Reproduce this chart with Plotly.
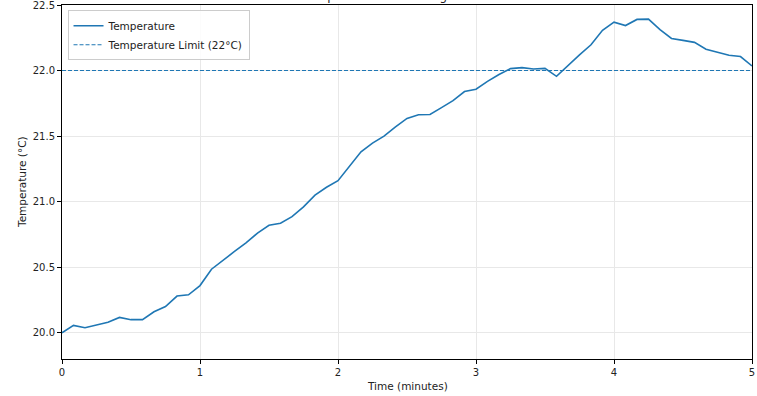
import plotly.graph_objects as go

# Time in minutes (every 5 seconds)
time_min = [i * 5 / 60 for i in range(61)]

temperature = [
    20.00, 20.056, 20.038, 20.06, 20.08, 20.117, 20.10, 20.10, 20.16, 20.20,
    20.28, 20.29, 20.36, 20.485, 20.556, 20.62, 20.686, 20.76, 20.82, 20.836,
    20.886, 20.96, 21.05, 21.11, 21.16, 21.27, 21.38, 21.447, 21.50, 21.57,
    21.635, 21.663, 21.665, 21.717, 21.77, 21.84, 21.858, 21.917, 21.97, 22.015,
    22.022, 22.012, 22.017, 21.956, 22.04, 22.12, 22.197, 22.307, 22.369, 22.343,
    22.39, 22.392, 22.312, 22.245, 22.23, 22.215, 22.163, 22.138, 22.117, 22.107,
    22.035,
]

limit_value = 22.0
title_text = "Temperature Monitoring Over Time"
x_title = "Time (minutes)"
y_title = "Temperature (°C)"
x_ticks = [0, 1, 2, 3, 4, 5]
y_ticks = [20.0, 20.5, 21.0, 21.5, 22.0, 22.5]

blue = "#1f77b4"
font_family = "DejaVu Sans"
text_color = "#222"

fig = go.Figure()
fig.add_trace(go.Scatter(
    x=time_min, y=temperature, mode="lines", name="Temperature",
    line=dict(color=blue, width=1.6),
))
fig.add_trace(go.Scatter(
    x=[0, 5], y=[limit_value, limit_value], mode="lines",
    name="Temperature Limit (22°C)",
    line=dict(color=blue, width=1.1, dash="4px,2px"),
))

axis_common = dict(
    showline=True, linecolor="black", linewidth=1, mirror=True,
    ticks="outside", ticklen=4, tickcolor="black", tickwidth=1,
    showgrid=True, gridcolor="#e8e8e8", gridwidth=1,
    zeroline=False, automargin=False, ticklabeloverflow="allow",
    tickfont=dict(family=font_family, size=10, color=text_color),
)

fig.update_layout(
    width=757, height=396,
    margin=dict(l=62, r=5, t=5, b=37),
    paper_bgcolor="white", plot_bgcolor="white",
    font=dict(family=font_family, size=10, color=text_color),
    showlegend=True,
    legend=dict(
        x=0.008, y=0.985, xanchor="left", yanchor="top",
        bgcolor="rgba(255,255,255,0.85)", bordercolor="#cccccc", borderwidth=1,
        font=dict(family=font_family, size=10.5, color=text_color),
        tracegroupgap=0,
    ),
    xaxis=dict(
        range=[0, 5], tickvals=x_ticks, ticktext=[str(v) for v in x_ticks],
        **axis_common,
    ),
    yaxis=dict(
        range=[19.8, 22.5], tickvals=y_ticks, ticktext=[f"{v:.1f}" for v in y_ticks],
        **axis_common,
    ),
    annotations=[
        dict(
            text=title_text, xref="paper", yref="paper", x=0.5, y=1,
            xanchor="center", yanchor="bottom", yshift=0, showarrow=False,
            font=dict(family=font_family, size=12, color=text_color),
        ),
        dict(
            text=x_title, xref="paper", yref="paper", x=0.5, y=0,
            xanchor="center", yanchor="middle", yshift=-27, showarrow=False,
            font=dict(family=font_family, size=10.5, color=text_color),
        ),
        dict(
            text=y_title, xref="paper", yref="paper", x=0, y=0.5,
            xanchor="center", yanchor="middle", xshift=-40, textangle=-90,
            showarrow=False,
            font=dict(family=font_family, size=10.5, color=text_color),
        ),
    ],
)

fig.write_html(
    "out.html",
    config={"displayModeBar": False},
    post_script="document.body.style.margin='0';document.body.style.overflow='hidden';",
)
